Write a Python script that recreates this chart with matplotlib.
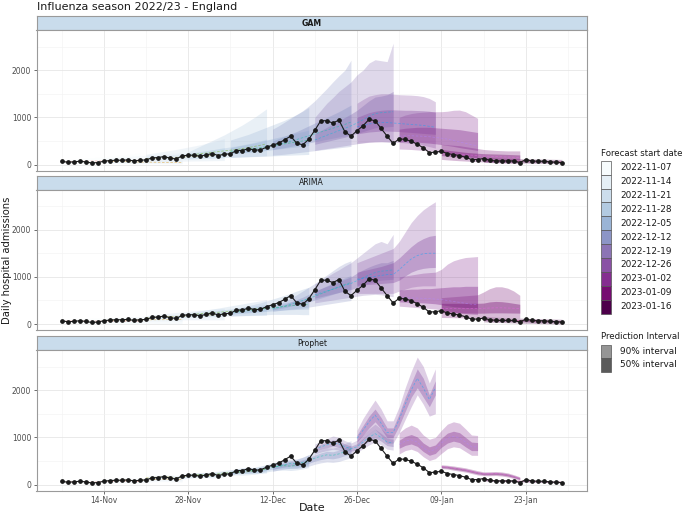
import numpy as np
import matplotlib.pyplot as plt
import matplotlib.dates as mdates
from matplotlib.patches import Rectangle
import pandas as pd

# observed daily admissions, 2022-11-07 .. 2023-01-29
obs_start = "2022-11-07"
observed = [71, 50, 57, 71, 57, 35, 43, 71, 85, 92, 92, 99, 78, 92, 99, 142, 149, 170, 135, 120,
            184, 198, 198, 177, 206, 234, 191, 220, 227, 298, 298, 340, 305, 312, 369, 411, 454, 525,
            603, 454, 418, 535, 726, 929, 929, 879, 943, 695, 603, 716, 822, 957, 929, 766, 603, 447,
            546, 532, 496, 432, 355, 255, 262, 284, 234, 213, 191, 156, 106, 106, 128, 92, 78, 78,
            78, 78, 43, 106, 78, 71, 71, 57, 50, 43]

forecast_starts = ["2022-11-07", "2022-11-14", "2022-11-21", "2022-11-28", "2022-12-05", "2022-12-12",
                   "2022-12-19", "2022-12-26", "2023-01-02", "2023-01-09", "2023-01-16"]
horizon = 14
models = ["GAM", "ARIMA", "Prophet"]

# ---- GAM ----
gam_med = [
    [65, 66, 68, 70, 72, 74, 76, 78, 80, 82, 85, 88, 90, 93],
    [75, 72, 68, 64, 60, 57, 54, 52, 50, 48, 46, 45, 44, 43],
    [130, 135, 140, 145, 150, 155, 160, 165, 172, 180, 190, 200, 210, 220],
    [200, 215, 230, 245, 260, 275, 290, 305, 320, 340, 360, 385, 410, 440],
    [280, 295, 310, 325, 340, 360, 380, 400, 420, 440, 460, 480, 500, 520],
    [400, 430, 460, 495, 530, 570, 610, 650, 690, 730, 770, 810, 850, 900],
    [520, 570, 620, 670, 720, 770, 820, 880, 950, 1020, 1080, 1100, 1110, 1120],
    [800, 830, 860, 880, 890, 890, 880, 870, 860, 850, 840, 830, 810, 790],
    [600, 610, 610, 605, 600, 590, 575, 560, 540, 510, 480, 450, 420, 400],
    [250, 240, 230, 220, 210, 200, 190, 180, 175, 170, 165, 160, 155, 150],
    [90, 87, 84, 81, 78, 76, 74, 72, 70, 68, 66, 64, 62, 60],
]
gam_lo50 = [
    [55, 54, 54, 55, 56, 57, 58, 58, 59, 60, 61, 62, 63, 64],
    [60, 56, 52, 48, 45, 42, 40, 38, 36, 34, 33, 32, 31, 30],
    [100, 103, 106, 109, 112, 115, 118, 121, 125, 129, 133, 137, 141, 145],
    [170, 180, 190, 200, 210, 220, 230, 240, 250, 262, 275, 290, 305, 320],
    [230, 240, 250, 260, 270, 285, 300, 315, 330, 345, 360, 375, 390, 405],
    [320, 340, 360, 385, 410, 435, 460, 485, 510, 535, 560, 585, 610, 640],
    [430, 460, 490, 520, 550, 580, 620, 660, 700, 740, 780, 790, 800, 810],
    [650, 670, 690, 700, 710, 710, 705, 700, 690, 680, 670, 660, 650, 640],
    [480, 485, 480, 475, 465, 455, 440, 425, 405, 385, 360, 340, 320, 300],
    [190, 180, 170, 160, 150, 140, 132, 126, 122, 118, 114, 110, 106, 102],
    [72, 69, 66, 63, 61, 59, 57, 55, 53, 51, 49, 47, 45, 43],
]
gam_hi50 = [
    [78, 80, 83, 86, 89, 93, 97, 101, 105, 110, 115, 120, 125, 130],
    [95, 95, 94, 93, 92, 91, 90, 90, 90, 89, 89, 88, 88, 88],
    [165, 175, 185, 195, 205, 215, 228, 240, 255, 270, 290, 310, 335, 360],
    [235, 255, 275, 295, 315, 335, 355, 375, 395, 420, 445, 475, 505, 540],
    [360, 385, 410, 435, 460, 490, 520, 550, 580, 610, 640, 670, 700, 730],
    [500, 550, 600, 650, 700, 760, 820, 880, 940, 1000, 1060, 1120, 1190, 1260],
    [650, 720, 790, 860, 930, 1000, 1070, 1150, 1250, 1350, 1430, 1450, 1480, 1550],
    [1000, 1050, 1100, 1130, 1150, 1160, 1160, 1155, 1150, 1150, 1145, 1140, 1130, 1110],
    [750, 770, 780, 790, 790, 790, 780, 770, 760, 750, 740, 720, 700, 680],
    [320, 305, 290, 275, 260, 250, 240, 232, 228, 224, 220, 215, 210, 205],
    [110, 106, 102, 98, 95, 92, 90, 88, 86, 84, 82, 80, 78, 76],
]
gam_lo90 = [
    [40, 38, 36, 34, 32, 30, 28, 26, 25, 24, 22, 21, 20, 20],
    [40, 36, 32, 28, 25, 22, 20, 18, 16, 15, 14, 13, 12, 11],
    [60, 62, 64, 66, 68, 70, 72, 74, 76, 78, 80, 82, 84, 86],
    [120, 125, 130, 135, 140, 145, 150, 155, 160, 165, 170, 175, 180, 185],
    [150, 155, 160, 165, 170, 175, 180, 185, 190, 195, 200, 205, 210, 215],
    [200, 210, 220, 235, 250, 265, 280, 295, 310, 325, 340, 355, 370, 385],
    [300, 320, 340, 360, 380, 400, 420, 440, 460, 480, 490, 490, 480, 470],
    [450, 460, 470, 475, 480, 480, 475, 470, 460, 450, 430, 410, 380, 350],
    [330, 325, 320, 310, 300, 290, 275, 260, 240, 220, 200, 180, 160, 140],
    [110, 100, 90, 82, 75, 68, 62, 56, 50, 45, 40, 36, 32, 30],
    [45, 43, 41, 39, 37, 35, 33, 31, 29, 27, 25, 23, 21, 20],
]
gam_hi90 = [
    [100, 108, 116, 125, 135, 145, 155, 166, 178, 190, 203, 217, 232, 248],
    [130, 140, 150, 160, 170, 180, 190, 200, 210, 220, 230, 240, 250, 260],
    [220, 240, 260, 280, 300, 320, 345, 370, 395, 420, 450, 480, 515, 550],
    [270, 330, 390, 450, 510, 570, 630, 700, 770, 840, 920, 1000, 1090, 1180],
    [520, 560, 600, 640, 690, 740, 790, 840, 890, 940, 1000, 1060, 1130, 1210],
    [750, 820, 900, 980, 1060, 1140, 1240, 1350, 1480, 1610, 1750, 1880, 2000, 2210],
    [1000, 1150, 1300, 1420, 1550, 1650, 1750, 1900, 2000, 2150, 2220, 2200, 2180, 2570],
    [1300, 1380, 1450, 1480, 1500, 1500, 1490, 1480, 1475, 1470, 1460, 1440, 1400, 1330],
    [1000, 1050, 1080, 1100, 1110, 1120, 1120, 1120, 1130, 1150, 1154, 1120, 1050, 980],
    [430, 420, 410, 400, 380, 360, 340, 320, 310, 300, 295, 290, 290, 290],
    [150, 145, 140, 135, 130, 128, 125, 122, 120, 118, 116, 114, 112, 110],
]

# ---- ARIMA ----
arima_med = [
    [66, 65, 65, 64, 64, 64, 63, 63, 63, 63, 62, 62, 62, 62],
    [80, 82, 83, 85, 86, 88, 89, 90, 92, 93, 94, 95, 96, 97],
    [140, 145, 150, 155, 160, 165, 170, 175, 180, 185, 190, 195, 200, 205],
    [200, 210, 220, 230, 240, 250, 262, 274, 286, 298, 310, 322, 334, 346],
    [240, 255, 270, 285, 300, 315, 330, 345, 360, 375, 390, 400, 410, 420],
    [320, 350, 380, 420, 460, 500, 540, 590, 640, 690, 740, 790, 840, 880],
    [620, 660, 700, 740, 780, 820, 860, 920, 980, 1040, 1090, 1120, 1130, 1150],
    [950, 970, 990, 1010, 1030, 1050, 1050, 1150, 1270, 1380, 1450, 1490, 1500, 1500],
    [560, 560, 555, 550, 545, 540, 530, 520, 500, 480, 460, 440, 420, 410],
    [330, 330, 330, 330, 330, 330, 330, 335, 340, 345, 345, 340, 335, 330],
    [100, 94, 89, 85, 81, 78, 75, 72, 69, 66, 63, 61, 58, 56],
]
arima_lo50 = [
    [56, 52, 49, 47, 45, 43, 41, 39, 38, 36, 35, 34, 33, 32],
    [70, 68, 66, 65, 65, 65, 65, 65, 66, 66, 66, 66, 66, 66],
    [125, 127, 129, 131, 133, 136, 139, 142, 145, 148, 151, 154, 157, 160],
    [185, 192, 199, 206, 213, 220, 228, 236, 244, 252, 260, 268, 276, 284],
    [210, 220, 230, 240, 250, 260, 270, 280, 290, 300, 305, 310, 315, 320],
    [300, 325, 350, 380, 410, 440, 470, 510, 550, 590, 630, 670, 710, 740],
    [550, 580, 610, 640, 670, 700, 730, 780, 830, 870, 910, 930, 940, 950],
    [820, 830, 840, 850, 860, 870, 880, 930, 1020, 1100, 1150, 1180, 1195, 1200],
    [470, 465, 460, 455, 450, 440, 430, 410, 390, 370, 360, 350, 345, 340],
    [240, 240, 238, 236, 234, 232, 230, 232, 236, 238, 238, 236, 234, 232],
    [78, 72, 67, 63, 60, 57, 54, 51, 48, 45, 43, 40, 38, 36],
]
arima_hi50 = [
    [76, 80, 83, 85, 87, 89, 91, 92, 94, 95, 96, 97, 98, 99],
    [90, 96, 100, 104, 107, 110, 113, 116, 118, 121, 123, 125, 127, 129],
    [155, 165, 173, 181, 189, 196, 203, 210, 217, 224, 230, 237, 243, 250],
    [215, 230, 245, 260, 275, 290, 305, 320, 336, 352, 368, 384, 400, 416],
    [270, 290, 310, 330, 350, 370, 390, 410, 430, 450, 470, 490, 520, 550],
    [340, 380, 420, 470, 520, 570, 630, 690, 750, 810, 870, 930, 980, 1030],
    [700, 750, 800, 850, 900, 950, 1000, 1080, 1150, 1210, 1260, 1300, 1300, 1350],
    [1100, 1130, 1160, 1190, 1220, 1260, 1300, 1400, 1520, 1640, 1740, 1810, 1860, 1880],
    [720, 730, 740, 740, 750, 750, 760, 770, 780, 790, 790, 800, 800, 800],
    [440, 440, 440, 440, 440, 440, 440, 445, 470, 480, 475, 460, 440, 420],
    [125, 118, 112, 107, 103, 99, 95, 92, 89, 86, 83, 80, 78, 75],
]
arima_lo90 = [
    [38, 28, 21, 15, 10, 6, 3, 1, 0, 0, 0, 0, 0, 0],
    [52, 44, 38, 33, 28, 24, 20, 17, 14, 12, 10, 8, 6, 5],
    [100, 97, 95, 93, 92, 91, 90, 90, 90, 90, 90, 90, 90, 90],
    [160, 162, 164, 166, 168, 170, 172, 174, 176, 178, 180, 182, 184, 186],
    [170, 175, 180, 185, 190, 195, 200, 205, 205, 205, 205, 205, 200, 200],
    [270, 285, 300, 315, 330, 345, 360, 380, 400, 420, 440, 460, 480, 500],
    [450, 470, 490, 510, 530, 550, 570, 590, 610, 620, 630, 620, 600, 580],
    [650, 650, 650, 650, 650, 650, 650, 700, 740, 780, 800, 810, 810, 810],
    [380, 370, 360, 350, 340, 330, 320, 300, 280, 260, 240, 220, 210, 200],
    [140, 138, 136, 134, 132, 130, 128, 128, 130, 132, 132, 130, 128, 126],
    [48, 42, 37, 32, 28, 24, 20, 17, 14, 11, 8, 5, 3, 0],
]
arima_hi90 = [
    [95, 105, 112, 118, 123, 128, 132, 136, 140, 143, 146, 149, 152, 155],
    [110, 122, 132, 140, 148, 155, 162, 168, 174, 180, 185, 190, 195, 200],
    [180, 195, 210, 222, 234, 246, 258, 270, 282, 293, 304, 315, 326, 337],
    [240, 260, 280, 300, 320, 340, 362, 384, 406, 428, 450, 472, 494, 516],
    [300, 330, 360, 390, 420, 450, 490, 530, 570, 610, 650, 700, 740, 780],
    [380, 430, 490, 550, 620, 700, 780, 860, 950, 1040, 1130, 1220, 1290, 1340],
    [850, 920, 1000, 1080, 1150, 1230, 1300, 1400, 1500, 1600, 1700, 1750, 1700, 1900],
    [1300, 1350, 1400, 1450, 1500, 1550, 1600, 1750, 1950, 2150, 2300, 2420, 2510, 2590],
    [1000, 1020, 1040, 1060, 1080, 1090, 1100, 1160, 1270, 1340, 1380, 1410, 1420, 1430],
    [560, 570, 580, 590, 600, 610, 620, 680, 750, 790, 790, 760, 700, 610],
    [160, 152, 146, 140, 135, 130, 126, 122, 118, 115, 112, 109, 106, 103],
]

# ---- Prophet ----
prophet_med = [
    [65, 60, 58, 62, 64, 58, 55, 66, 70, 68, 72, 74, 66, 64],
    [80, 85, 88, 92, 95, 90, 88, 100, 106, 110, 115, 118, 112, 110],
    [140, 150, 158, 165, 160, 150, 162, 178, 190, 198, 200, 192, 205, 220],
    [195, 205, 210, 205, 215, 230, 245, 255, 265, 262, 275, 295, 315, 330],
    [250, 275, 295, 300, 290, 310, 340, 370, 390, 400, 390, 410, 440, 480],
    [360, 390, 420, 450, 440, 470, 510, 560, 600, 630, 620, 650, 700, 750],
    [750, 800, 840, 880, 860, 800, 760, 800, 900, 1000, 1080, 1000, 900, 880],
    [980, 1150, 1330, 1470, 1300, 1100, 1100, 1380, 1700, 2000, 2250, 2050, 1800, 2050],
    [850, 920, 950, 900, 780, 700, 750, 880, 980, 1020, 990, 900, 800, 800],
    [380, 370, 350, 330, 310, 280, 250, 230, 230, 235, 225, 205, 170, 130],
    [95, 90, 86, 82, 80, 78, 75, 72, 70, 67, 63, 59, 56, 52],
]
prophet_lo50 = [
    [52, 46, 44, 47, 49, 42, 39, 50, 54, 51, 55, 56, 48, 45],
    [66, 70, 72, 75, 77, 72, 69, 80, 85, 88, 92, 94, 87, 85],
    [124, 133, 140, 146, 140, 130, 141, 155, 166, 173, 174, 166, 177, 190],
    [177, 185, 189, 183, 192, 205, 218, 226, 235, 231, 242, 260, 277, 289],
    [228, 249, 266, 269, 259, 276, 302, 328, 344, 351, 341, 357, 382, 415],
    [320, 350, 375, 400, 390, 415, 450, 495, 530, 555, 545, 570, 615, 660],
    [700, 745, 780, 815, 795, 740, 705, 740, 830, 920, 990, 920, 825, 805],
    [900, 1050, 1200, 1330, 1180, 990, 1000, 1250, 1550, 1850, 2050, 1850, 1650, 1900],
    [770, 830, 860, 810, 700, 620, 660, 790, 880, 920, 890, 800, 720, 720],
    [360, 350, 328, 308, 288, 258, 228, 210, 209, 214, 204, 184, 150, 112],
    [87, 82, 78, 74, 72, 70, 67, 64, 62, 59, 55, 51, 48, 44],
]
prophet_hi50 = [
    [80, 76, 74, 79, 81, 75, 73, 84, 88, 87, 91, 94, 86, 85],
    [95, 101, 105, 110, 113, 109, 107, 120, 127, 132, 138, 142, 137, 135],
    [157, 168, 177, 185, 181, 171, 184, 202, 215, 224, 228, 220, 235, 252],
    [214, 226, 232, 228, 239, 256, 273, 285, 296, 294, 309, 331, 354, 372],
    [273, 302, 325, 332, 322, 345, 380, 415, 439, 452, 443, 467, 502, 549],
    [400, 430, 465, 500, 490, 525, 570, 625, 670, 705, 695, 730, 785, 840],
    [800, 855, 900, 950, 925, 860, 815, 865, 975, 1085, 1175, 1085, 980, 960],
    [1050, 1250, 1450, 1600, 1420, 1200, 1200, 1500, 1850, 2150, 2450, 2250, 1900, 2200],
    [940, 1020, 1060, 1010, 880, 800, 840, 980, 1090, 1130, 1100, 1000, 900, 890],
    [400, 390, 372, 352, 332, 302, 272, 250, 251, 256, 246, 226, 190, 148],
    [103, 98, 94, 90, 88, 86, 83, 80, 78, 75, 71, 67, 64, 60],
]
prophet_lo90 = [
    [35, 28, 25, 28, 30, 22, 18, 28, 32, 29, 32, 32, 24, 20],
    [48, 51, 52, 54, 55, 49, 45, 55, 59, 61, 64, 65, 57, 54],
    [108, 116, 122, 126, 118, 108, 118, 130, 140, 146, 146, 138, 148, 160],
    [158, 164, 166, 160, 167, 178, 190, 196, 203, 198, 207, 222, 236, 245],
    [205, 224, 238, 240, 230, 245, 267, 290, 303, 308, 298, 311, 332, 360],
    [280, 310, 330, 350, 340, 360, 390, 430, 460, 480, 470, 490, 530, 570],
    [650, 690, 720, 750, 730, 680, 650, 680, 760, 840, 900, 840, 750, 730],
    [820, 950, 1080, 1170, 1030, 870, 880, 1100, 1380, 1650, 1900, 1700, 1450, 1500],
    [650, 720, 750, 700, 590, 510, 550, 660, 760, 800, 780, 700, 620, 620],
    [340, 330, 305, 285, 265, 235, 205, 190, 188, 192, 182, 162, 130, 95],
    [78, 73, 69, 65, 63, 61, 58, 55, 53, 50, 46, 42, 39, 35],
]
prophet_hi90 = [
    [100, 96, 95, 100, 103, 98, 96, 108, 113, 112, 117, 120, 113, 112],
    [115, 122, 127, 133, 138, 134, 133, 147, 155, 161, 168, 173, 169, 168],
    [175, 188, 199, 208, 205, 195, 210, 230, 245, 256, 260, 253, 270, 288],
    [235, 248, 256, 252, 265, 284, 303, 316, 329, 328, 344, 370, 396, 416],
    [300, 332, 358, 367, 358, 385, 425, 466, 495, 512, 504, 534, 578, 635],
    [440, 470, 510, 550, 540, 580, 630, 690, 740, 780, 770, 810, 870, 930],
    [860, 920, 970, 1030, 1000, 930, 880, 940, 1060, 1180, 1280, 1180, 1070, 1050],
    [1150, 1400, 1600, 1790, 1600, 1350, 1350, 1650, 2050, 2400, 2700, 2500, 2150, 2450],
    [1100, 1200, 1260, 1200, 1050, 960, 1000, 1150, 1280, 1330, 1300, 1180, 1050, 1040],
    [420, 410, 395, 375, 355, 325, 295, 270, 272, 278, 268, 248, 210, 165],
    [112, 107, 103, 99, 97, 95, 92, 89, 87, 84, 80, 76, 73, 69],
]

model_data = {
    "GAM": (gam_lo90, gam_lo50, gam_med, gam_hi50, gam_hi90),
    "ARIMA": (arima_lo90, arima_lo50, arima_med, arima_hi50, arima_hi90),
    "Prophet": (prophet_lo90, prophet_lo50, prophet_med, prophet_hi50, prophet_hi90),
}

obs_dates = pd.date_range(obs_start, periods=len(observed), freq="D")
fill_cols = plt.get_cmap("BuPu")(np.linspace(0, 1, len(forecast_starts)))
line_cols = ["#F8766D", "#DB8E00", "#AEA200", "#64B200", "#00BD5C", "#00C1A7",
             "#00BADE", "#00A6FF", "#B385FF", "#EF67EB", "#FF63B6"]

W, H = 685, 513
fig = plt.figure(figsize=(W / 100, H / 100), dpi=100)


def px_axes(x0, y0, w, h):
    return fig.add_axes([x0 / W, 1 - (y0 + h) / H, w / W, h / H])


left, width = 36.5, 550.5
strip_tops = [16, 175.5, 336]
strip_h, panel_h = 14, 140.5
xmin = obs_dates[0] - pd.Timedelta(days=4.15)
xmax = obs_dates[-1] + pd.Timedelta(days=4.15)
major_ticks = pd.date_range("2022-11-14", "2023-01-23", freq="14D")
minor_ticks = pd.date_range("2022-11-07", "2023-01-30", freq="14D")
border = "#9a9a9a"

for k, name in enumerate(models):
    lo90, lo50, med, hi50, hi90 = model_data[name]
    top = strip_tops[k]
    sax = px_axes(left, top, width, strip_h)
    sax.set_facecolor("#c9dcec")
    sax.set_xticks([])
    sax.set_yticks([])
    for s in sax.spines.values():
        s.set_color(border)
        s.set_linewidth(0.8)
    sax.text(0.5, 0.5, name, transform=sax.transAxes, ha="center", va="center",
             fontsize=5.6, color="#1a1a1a", fontweight="bold" if name == "GAM" else "normal")

    ax = px_axes(left, top + strip_h, width, panel_h)
    for i, fs in enumerate(forecast_starts):
        d = pd.date_range(fs, periods=horizon, freq="D")
        ax.fill_between(d, lo90[i], hi90[i], color=fill_cols[i], alpha=0.28, lw=0)
    for i, fs in enumerate(forecast_starts):
        d = pd.date_range(fs, periods=horizon, freq="D")
        ax.fill_between(d, lo50[i], hi50[i], color=fill_cols[i], alpha=0.38, lw=0)
    for i, fs in enumerate(forecast_starts):
        d = pd.date_range(fs, periods=horizon, freq="D")
        ax.plot(d, med[i], color=line_cols[i], lw=0.6, ls=(0, (3, 2)), alpha=0.45)
    ax.plot(obs_dates, observed, color="#1a1a1a", lw=0.8, marker="o", ms=2.4, zorder=5)

    ax.set_xlim(xmin, xmax)
    ax.set_ylim(-125, 2850)
    ax.set_yticks([0, 1000, 2000])
    ax.set_yticks([500, 1500, 2500], minor=True)
    ax.set_xticks(major_ticks)
    ax.set_xticks(minor_ticks, minor=True)
    ax.grid(which="major", color="#e6e6e6", lw=0.6)
    ax.grid(which="minor", color="#f2f2f2", lw=0.4)
    ax.set_axisbelow(True)
    ax.tick_params(which="minor", length=0)
    ax.tick_params(which="major", length=2.2, width=0.5, color="#333333",
                   labelsize=5.5, labelcolor="#4d4d4d", pad=1.5)
    for s in ax.spines.values():
        s.set_color(border)
        s.set_linewidth(0.8)
    if k < 2:
        ax.tick_params(axis="x", length=0, labelbottom=False)
    else:
        ax.xaxis.set_major_formatter(mdates.DateFormatter("%d-%b"))

fig.text(37 / W, 1 - 7.5 / H, "Influenza season 2022/23 - England", fontsize=8,
         ha="left", va="center", color="#1a1a1a")
fig.text(7.5 / W, 1 - 260 / H, "Daily hospital admissions", rotation=90, fontsize=7.2,
         ha="center", va="center", color="#1a1a1a")
fig.text(312 / W, 1 - 508 / H, "Date", fontsize=8, ha="center", va="center", color="#1a1a1a")

# legends
lax = fig.add_axes([0, 0, 1, 1])
lax.set_xlim(0, W)
lax.set_ylim(H, 0)
lax.axis("off")
lax.text(601, 153, "Forecast start date", fontsize=6.2, va="center", ha="left", color="#1a1a1a")
row = 13.9
for i, fs in enumerate(forecast_starts):
    y0 = 160.7 + i * row
    lax.add_patch(Rectangle((601, y0), 10.5, row, facecolor=fill_cols[i],
                            edgecolor="#555555", lw=0.5))
    lax.text(620.5, y0 + row / 2, fs, fontsize=6.4, va="center", ha="left", color="#1a1a1a")
lax.text(601, 336.7, "Prediction Interval", fontsize=6.2, va="center", ha="left", color="#1a1a1a")
for j, (lab, col) in enumerate([("90% interval", "#959595"), ("50% interval", "#5a5a5a")]):
    y0 = 345 + j * 13.3
    lax.add_patch(Rectangle((601, y0), 10.5, 13.3, facecolor=col, edgecolor="#555555", lw=0.5))
    lax.text(620.5, y0 + 13.3 / 2, lab, fontsize=6.4, va="center", ha="left", color="#1a1a1a")

fig.savefig("out.png", dpi=100)
